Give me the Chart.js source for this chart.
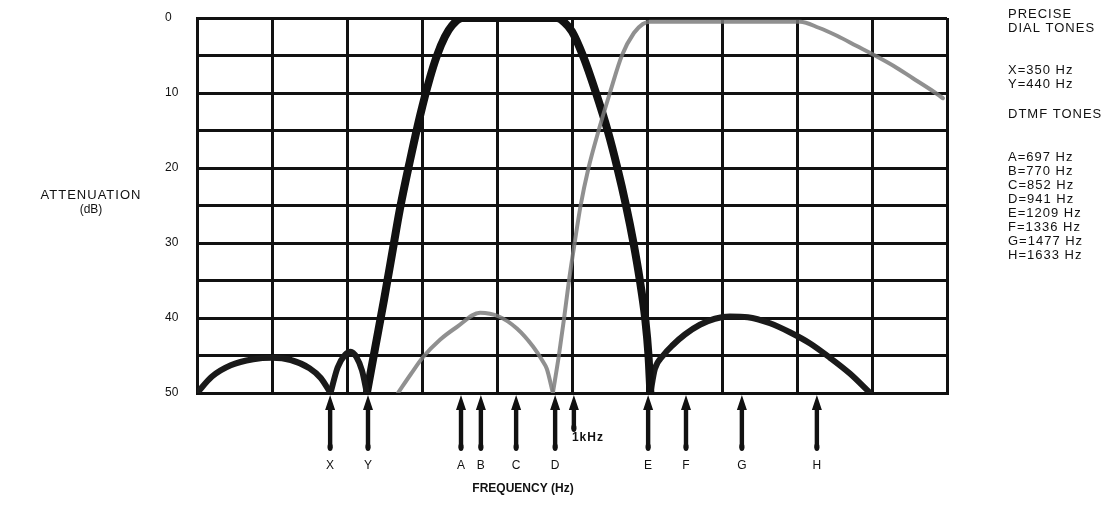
<!DOCTYPE html>
<html>
<head>
<meta charset="utf-8">
<script src="https://cdn.jsdelivr.net/npm/chart.js@4/dist/chart.umd.min.js"></script>
<style>
  body { margin: 0; background: #fff; }
  canvas { display: block; }
</style>
</head>
<body>
<canvas id="filterChart" width="1105" height="506"></canvas>
<script>
// low-group filter (thick black) - split at the notches so they stay sharp
const lowLobe1Hz = [0, 40, 90, 150, 200, 250, 300, 330, 356];
const lowLobe1Db = [50, 47.8, 46.3, 45.5, 45.3, 45.6, 46.7, 48, 50];
const lowLobe2Hz = [356, 375, 395, 410, 425, 440, 453];
const lowLobe2Db = [50, 46.6, 44.9, 44.5, 45.2, 47, 50];
const lowBandHz = [453, 475, 499, 520, 541, 568, 595, 621, 640, 661, 680, 707, 960, 980, 1000, 1029, 1064, 1095, 1121, 1144, 1164, 1181, 1195, 1204, 1209];
const lowBandDb = [50, 44, 37.5, 31.5, 25.5, 19, 13, 8, 5, 2.5, 1, 0, 0, 0.6, 1.8, 5, 10, 15, 20, 25, 30, 35, 40, 45, 50];
const lowLobe3Hz = [1209, 1221, 1243, 1269, 1301, 1341, 1381, 1421, 1469, 1528, 1581, 1635, 1688, 1741, 1795];
const lowLobe3Db = [50, 46.8, 45, 43.6, 42.2, 40.9, 40.1, 39.8, 39.9, 40.7, 41.9, 43.4, 45.3, 47.4, 50];

// high-group filter (grey)
const highLobeHz = [536, 570, 603, 648, 693, 755, 805, 853, 896, 920, 933, 949];
const highLobeDb = [50, 47.5, 45.2, 42.9, 41.2, 39.3, 39.8, 41.4, 43.8, 45.6, 46.8, 50];
const highBandHz = [949, 965, 979, 992, 1007, 1023, 1044, 1071, 1101, 1133, 1165, 1189, 1208, 1608, 1658, 1708, 1758, 1808, 1858, 1908, 1958, 1989];
const highBandDb = [50, 45, 40, 35, 30, 25, 20, 15, 10, 5, 2, 0.8, 0.5, 0.5, 1.3, 2.4, 3.7, 5, 6.4, 8, 9.6, 10.7];

// tone markers under the axis
const toneLabels = ['X', 'Y', 'A', 'B', 'C', 'D', 'E', 'F', 'G', 'H'];
const toneHz = [355, 456, 704, 757, 851, 955, 1203, 1304, 1453, 1653];
const kHzMark = 1005;

const yTicks = [0, 10, 20, 30, 40, 50];

const dialTones = ['X=350 Hz', 'Y=440 Hz'];
const dtmfTones = ['A=697 Hz', 'B=770 Hz', 'C=852 Hz', 'D=941 Hz', 'E=1209 Hz', 'F=1336 Hz', 'G=1477 Hz', 'H=1633 Hz'];

const FONT = '"Liberation Sans", Arial, Helvetica, sans-serif';

function pts(xs, ys) {
  return xs.map((x, i) => ({ x: x, y: ys[i] }));
}

function curve(xs, ys, color, width) {
  return {
    data: pts(xs, ys),
    borderColor: color,
    borderWidth: width,
    pointRadius: 0,
    fill: false,
    cubicInterpolationMode: 'monotone',
    borderCapStyle: 'round',
    borderJoinStyle: 'round'
  };
}

function drawArrow(ctx, px, top, bottom) {
  ctx.beginPath();
  ctx.moveTo(px, top);
  ctx.lineTo(px + 5, top + 15);
  ctx.lineTo(px - 5, top + 15);
  ctx.closePath();
  ctx.fill();
  ctx.fillRect(px - 2.2, top + 12, 4.4, bottom - top - 14);
  ctx.beginPath();
  ctx.ellipse(px, bottom - 3, 2.6, 4, 0, 0, Math.PI * 2);
  ctx.fill();
}

const annotations = {
  id: 'annotations',
  afterDraw(chart) {
    const { ctx, chartArea } = chart;
    const x = chart.scales.x;
    ctx.save();
    ctx.fillStyle = '#111';
    ctx.textBaseline = 'middle';

    // arrows + letters
    ctx.font = '12px ' + FONT;
    ctx.textAlign = 'center';
    toneHz.forEach((hz, i) => {
      const px = x.getPixelForValue(hz);
      drawArrow(ctx, px, chartArea.bottom + 2, chartArea.bottom + 57);
      ctx.fillText(toneLabels[i], px, 466);
    });
    const kx = x.getPixelForValue(kHzMark);
    drawArrow(ctx, kx, chartArea.bottom + 2, chartArea.bottom + 38);
    ctx.font = 'bold 12px ' + FONT;
    ctx.textAlign = 'left';
    ctx.letterSpacing = '1px';
    ctx.fillText('1kHz', kx - 2, 438);
    ctx.letterSpacing = '0px';

    // axis titles
    ctx.textAlign = 'center';
    ctx.font = 'bold 12px ' + FONT;
    ctx.fillText('FREQUENCY (Hz)', 523, 489);
    ctx.font = '13px ' + FONT;
    ctx.letterSpacing = '1px';
    ctx.fillText('ATTENUATION', 91, 195);
    ctx.letterSpacing = '0px';
    ctx.font = '12px ' + FONT;
    ctx.fillText('(dB)', 91, 210);

    // tone legend on the right
    ctx.textAlign = 'left';
    ctx.font = '13px ' + FONT;
    ctx.letterSpacing = '1px';
    const lx = 1008;
    ctx.fillText('PRECISE', lx, 14);
    ctx.fillText('DIAL TONES', lx, 28);
    dialTones.forEach((t, i) => ctx.fillText(t, lx, 70 + i * 14));
    ctx.fillText('DTMF TONES', lx, 114);
    dtmfTones.forEach((t, i) => ctx.fillText(t, lx, 157 + i * 14));
    ctx.restore();
  }
};

new Chart(document.getElementById('filterChart'), {
  type: 'line',
  data: {
    datasets: [
      curve(highLobeHz, highLobeDb, 'rgba(125,125,125,0.85)', 4),
      curve(highBandHz, highBandDb, 'rgba(125,125,125,0.85)', 4),
      curve(lowLobe1Hz, lowLobe1Db, '#1a1a1a', 6),
      curve(lowLobe2Hz, lowLobe2Db, '#1a1a1a', 6),
      curve(lowBandHz, lowBandDb, '#111', 8),
      curve(lowLobe3Hz, lowLobe3Db, '#1a1a1a', 6)
    ]
  },
  options: {
    responsive: false,
    animation: false,
    devicePixelRatio: 1,
    layout: { padding: { left: 165, right: 158, top: 18, bottom: 113 } },
    plugins: {
      legend: { display: false },
      tooltip: { enabled: false }
    },
    scales: {
      x: {
        type: 'linear',
        min: 0,
        max: 2000,
        ticks: { stepSize: 200, display: false },
        grid: { color: '#111', lineWidth: 3, drawTicks: false },
        border: { color: '#111', width: 3 },
        afterFit: s => { s.height = 0; }
      },
      y: {
        type: 'linear',
        reverse: true,
        min: 0,
        max: 50,
        ticks: {
          stepSize: 5,
          padding: 0,
          crossAlign: 'far',
          color: '#111',
          font: { size: 12, family: FONT },
          callback: v => (yTicks.includes(v) ? v : '')
        },
        grid: { color: '#111', lineWidth: 3, drawTicks: false },
        border: { color: '#111', width: 3 },
        afterFit: s => { s.width = 32; }
      }
    }
  },
  plugins: [annotations]
});
</script>
</body>
</html>
